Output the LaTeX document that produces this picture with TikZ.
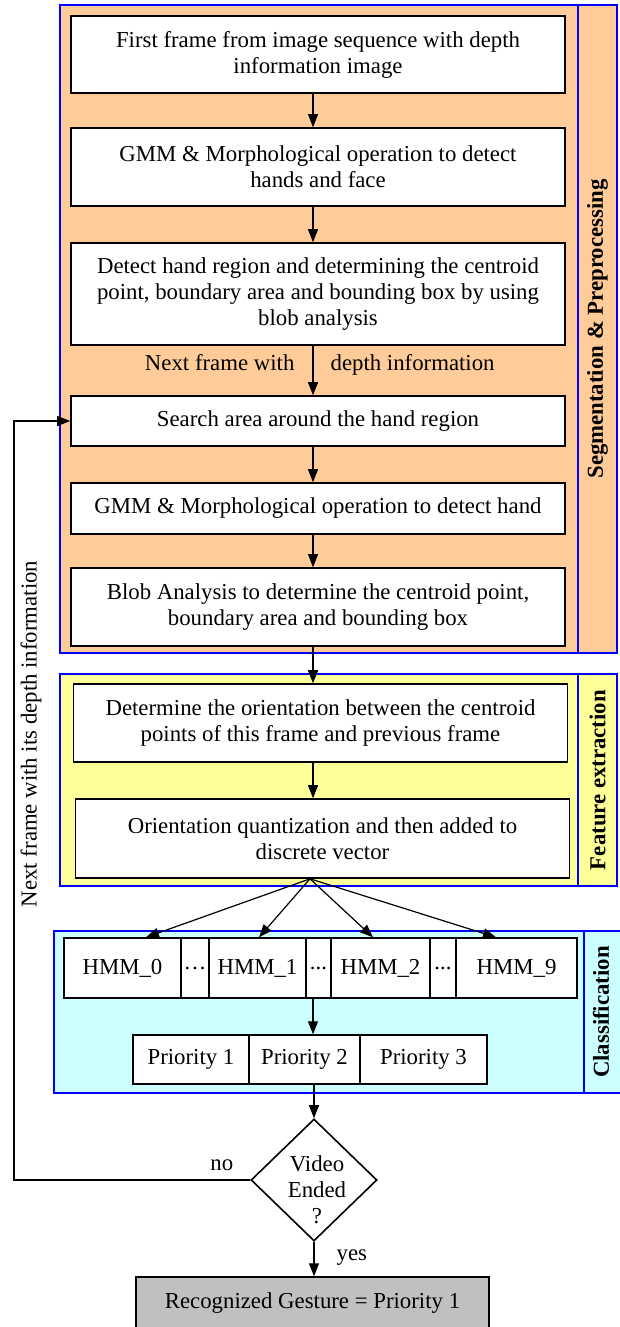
\documentclass[tikz,border=0pt]{standalone}
\usepackage{fontspec}
\setmainfont{Liberation Serif}
\usetikzlibrary{arrows.meta,positioning,shapes.geometric,calc}
\definecolor{segorange}{RGB}{255,204,153}
\definecolor{featyellow}{RGB}{255,255,153}
\definecolor{classcyan}{RGB}{204,255,255}
\definecolor{resultgray}{RGB}{192,192,192}
\newcommand{\flowfont}{\fontsize{22.8}{26}\selectfont}

\tikzset{
  stage/.style={draw=blue, line width=1.4pt},
  procbox/.style={draw, line width=1.6pt, fill=white, minimum width=494pt, align=center, inner sep=0pt, font=\flowfont},
  cell/.style={draw, line width=1.4pt, fill=white, inner sep=0pt, font=\flowfont},
  decision/.style={draw, diamond, line width=1.6pt, fill=white, minimum width=126pt, minimum height=122pt, inner sep=0pt},
  arr/.style={-{Triangle[length=13pt,width=10pt]}, line width=1.2pt},
  sidelabel/.style={rotate=90, font=\flowfont\bfseries},
  edgetext/.style={inner sep=0pt, font=\flowfont, text height=1.5ex, text depth=0.25ex},
}

\begin{document}
\begin{tikzpicture}[x=1pt,y=-1pt]
        \useasboundingbox (0,0) rectangle (619,1327);
        % stage frames
        \filldraw[stage, fill=segorange] (60,5) rectangle (578,653);
        \filldraw[stage, fill=segorange] (578,5) rectangle (617,653);
        \filldraw[stage, fill=featyellow] (60,674) rectangle (578,886);
        \filldraw[stage, fill=featyellow] (578,674) rectangle (617,886);
        \filldraw[stage, fill=classcyan] (54,931) rectangle (584,1093);
        \filldraw[stage, fill=classcyan] (584,931) rectangle (625,1093);
        \node[sidelabel] (seglabel) at (597.5,329) {Segmentation \& Preprocessing};
        \node[sidelabel] (featlabel) at (597.5,780) {Feature extraction};
        \node[sidelabel] (classlabel) at (601,1012) {Classification};

        \coordinate (axis) at (313,0);
        \coordinate (loopx) at (14,0);

        % segmentation steps
        \node[procbox, minimum height=77pt] (first) at (318,54.5) {First frame from image sequence with depth\\information image};
        \node[procbox, minimum height=78pt] (gmmfull) at (318,167) {GMM \& Morphological operation to detect\\hands and face};
        \node[procbox, minimum height=102pt] (detect) at (318,294) {Detect hand region and determining the centroid\\point, boundary area and bounding box by using\\blob analysis};
        \node[procbox, minimum height=50pt] (search) at (318,421) {Search area around the hand region};
        \node[procbox, minimum height=51pt] (gmmhand) at (318,508.5) {GMM \& Morphological operation to detect hand};
        \node[procbox, minimum height=78pt] (blob) at (318,607) {Blob Analysis to determine the centroid point,\\boundary area and bounding box};

        % feature steps
        \node[procbox, minimum height=78pt] (orient) at (320.5,723) {Determine the orientation between the centroid\\points of this frame and previous frame};
        \node[procbox, minimum height=79pt] (quant) at (322.5,838.5) {Orientation quantization and then added to\\discrete vector};

        % classifiers
        \node[cell, minimum width=117pt, minimum height=60pt] (hmmA) at (122.5,968) {HMM\_0};
        \node[cell, minimum width=28pt, minimum height=60pt] (dotsA) at (195,968) {\ldots};
        \node[cell, minimum width=97pt, minimum height=60pt] (hmmB) at (257.5,968) {HMM\_1};
        \node[cell, minimum width=25pt, minimum height=60pt] (dotsB) at (318.5,968) {...};
        \node[cell, minimum width=99pt, minimum height=60pt] (hmmC) at (380.5,968) {HMM\_2};
        \node[cell, minimum width=26pt, minimum height=60pt] (dotsC) at (443,968) {...};
        \node[cell, minimum width=121pt, minimum height=60pt] (hmmD) at (516.5,968) {HMM\_9};

        \node[cell, minimum width=116pt, minimum height=49pt] (prioA) at (191,1059.5) {Priority 1};
        \node[cell, minimum width=111pt, minimum height=49pt] (prioB) at (304.5,1059.5) {Priority 2};
        \node[cell, minimum width=127pt, minimum height=49pt] (prioC) at (423.5,1059.5) {Priority 3};

        % decision and result
        \node[decision] (ended) at (314,1180) {};
        \node[font=\flowfont, align=center, inner sep=0pt] (endedtext) at (317,1190) {Video\\Ended\\?};
        \node[cell, fill=resultgray, minimum width=353pt, minimum height=52pt] (result) at (312.5,1303) {Recognized Gesture = Priority 1};

        % connectors
        \draw[arr] (first.south -| axis) -- (gmmfull.north -| axis);
        \draw[arr] (gmmfull.south -| axis) -- (detect.north -| axis);
        \draw[arr] (detect.south -| axis) -- (search.north -| axis)
          node[pos=0.45, left=18pt, edgetext] {Next frame with}
          node[pos=0.45, right=17pt, edgetext] {depth information};
        \draw[arr] (search.south -| axis) -- (gmmhand.north -| axis);
        \draw[arr] (gmmhand.south -| axis) -- (blob.north -| axis);
        \draw[arr] (blob.south -| axis) -- (orient.north -| axis);
        \draw[arr] (orient.south -| axis) -- (quant.north -| axis);

        \coordinate (fan) at ([xshift=-12.5pt]quant.south);
        \draw[arr] (fan) -- ([xshift=23.5pt]hmmA.north);
        \draw[arr] (fan) -- ([xshift=1.5pt]hmmB.north);
        \draw[arr] (fan) -- ([xshift=-7.5pt]hmmC.north);
        \draw[arr] (fan) -- ([xshift=-20.5pt]hmmD.north);

        \draw[arr] (dotsB.south -| axis) -- (prioB.north -| axis);
        \draw[arr] (prioB.south -| ended.north) -- (ended.north);
        \draw[arr] (ended.south) -- (ended.south |- result.north)
          node[pos=0.45, right=22pt, edgetext] {yes};
        \draw[arr] (ended.west) -- node[pos=0.12, above=8pt, edgetext] {no} (ended.west -| loopx) |- (search.west);
        \node[rotate=90, font=\flowfont] (loopnote) at (31,734) {Next frame with its depth information};
      \end{tikzpicture}
\end{document}
